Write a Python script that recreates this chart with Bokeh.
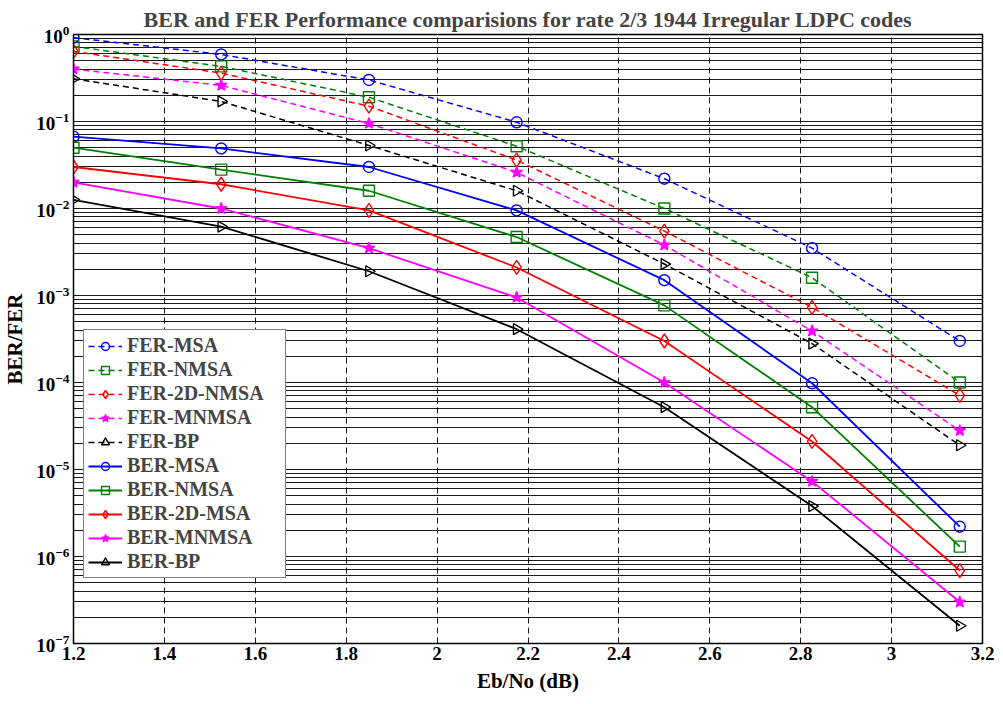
import numpy as np
from bokeh.plotting import figure
from bokeh.models import FixedTicker, Legend, LegendItem, LogTickFormatter
from bokeh.embed import file_html
from bokeh.resources import INLINE

# ---- data ----
ebno = [1.2, 1.525, 1.85, 2.175, 2.5, 2.825, 3.15]

fer_msa   = [0.92, 0.59, 0.30, 0.098, 0.022, 0.0035, 3.0e-4]
fer_nmsa  = [0.73, 0.43, 0.19, 0.052, 0.010, 0.0016, 1.0e-4]
fer_2d    = [0.64, 0.36, 0.15, 0.036, 0.0055, 7.3e-4, 7.1e-5]
fer_mnmsa = [0.40, 0.26, 0.095, 0.026, 0.0038, 3.9e-4, 2.8e-5]
fer_bp    = [0.31, 0.17, 0.053, 0.016, 0.0023, 2.8e-4, 1.9e-5]

ber_msa   = [0.067, 0.049, 0.030, 0.0095, 0.0015, 9.8e-5, 2.2e-6]
ber_nmsa  = [0.050, 0.028, 0.016, 0.0047, 7.7e-4, 5.2e-5, 1.3e-6]
ber_2d    = [0.030, 0.019, 0.0095, 0.0021, 3.0e-4, 2.1e-5, 6.9e-7]
ber_mnmsa = [0.020, 0.010, 0.0035, 9.5e-4, 1.0e-4, 7.3e-6, 3.0e-7]
ber_bp    = [0.0126, 0.0062, 0.0019, 4.1e-4, 5.2e-5, 3.8e-6, 1.6e-7]

x_ticks = [1.2, 1.4, 1.6, 1.8, 2.0, 2.2, 2.4, 2.6, 2.8, 3.0, 3.2]
y_exps = [0, -1, -2, -3, -4, -5, -6, -7]

series = [
    ("FER-MSA", fer_msa, "#0000ff", "circle", "dashed"),
    ("FER-NMSA", fer_nmsa, "#008000", "square", "dashed"),
    ("FER-2D-NMSA", fer_2d, "#ff0000", "diamond", "dashed"),
    ("FER-MNMSA", fer_mnmsa, "#ff00ff", "star", "dashed"),
    ("FER-BP", fer_bp, "#000000", "triangle", "dashed"),
    ("BER-MSA", ber_msa, "#0000ff", "circle", "solid"),
    ("BER-NMSA", ber_nmsa, "#008000", "square", "solid"),
    ("BER-2D-MSA", ber_2d, "#ff0000", "diamond", "solid"),
    ("BER-MNMSA", ber_mnmsa, "#ff00ff", "star", "solid"),
    ("BER-BP", ber_bp, "#000000", "triangle", "solid"),
]

FONT = "Liberation Serif"

p = figure(width=995, height=695, output_backend="svg", toolbar_location=None,
           x_range=(1.2, 3.2), y_range=(1e-7, 1.0), y_axis_type="log",
           min_border_left=68, min_border_right=13, min_border_top=34,
           min_border_bottom=45,
           title="BER and FER Performance comparisions for rate 2/3 1944 Irregular LDPC codes")

p.title.align = "center"
p.title.text_font = FONT
p.title.text_font_style = "bold"
p.title.text_font_size = "22px"
p.title.offset = 0
p.title.standoff = 6

p.outline_line_color = "black"
p.outline_line_width = 1.5

# axes
p.xaxis.ticker = FixedTicker(ticks=x_ticks, minor_ticks=[])
minor = [k * 10.0 ** e for e in range(-7, 0) for k in range(2, 10)]
p.yaxis.ticker = FixedTicker(ticks=[10.0 ** e for e in y_exps], minor_ticks=minor)
p.yaxis.formatter = LogTickFormatter()

for ax in (p.xaxis, p.yaxis):
    ax.major_label_text_font = FONT
    ax.major_label_text_font_style = "bold"
    ax.major_label_text_font_size = "19px"
    ax.axis_label_text_font = FONT
    ax.axis_label_text_font_style = "bold"
    ax.axis_label_text_font_size = "21px"
    ax.major_tick_out = 0
    ax.major_tick_in = 0
    ax.minor_tick_out = 0
    ax.minor_tick_in = 0
    ax.axis_line_color = "black"
    ax.major_label_text_color = "black"
    ax.axis_label_text_color = "black"

p.xaxis.axis_label = "Eb/No (dB)"
p.yaxis.axis_label = "BER/FER"
p.xaxis.major_label_standoff = 3
p.xaxis.axis_label_standoff = 6
p.yaxis.major_label_standoff = 4
p.yaxis.axis_label_standoff = 6

# grids
p.xgrid.grid_line_color = "black"
p.xgrid.grid_line_dash = "6 4"
p.xgrid.grid_line_width = 1
p.xgrid.grid_line_alpha = 0.9
p.ygrid.grid_line_color = "black"
p.ygrid.grid_line_alpha = 0.9
p.ygrid.minor_grid_line_color = "black"
p.ygrid.minor_grid_line_alpha = 0.9

items = []
for name, vals, color, marker, dash in series:
    lw = 1.5 if dash == "dashed" else 1.8
    r1 = p.line(ebno, vals, line_color=color, line_width=lw,
                line_dash="6 4" if dash == "dashed" else "solid")
    kw = dict(size=11, line_color=color, line_width=1.4)
    if marker == "star":
        kw["fill_color"] = color
        kw["size"] = 12
    else:
        kw["fill_color"] = None
    if marker == "diamond":
        kw["size"] = 14
    if marker == "triangle":
        kw["angle"] = -np.pi / 2
    r2 = p.scatter(ebno, vals, marker=marker, **kw)
    items.append(LegendItem(label=name, renderers=[r1, r2]))

legend = Legend(items=items, location=(10, 65))
legend.label_text_font = FONT
legend.label_text_font_style = "bold"
legend.label_text_font_size = "20px"
legend.label_width = 154
legend.glyph_width = 34
legend.glyph_height = 20
legend.label_height = 20
legend.spacing = 1
legend.padding = 4
legend.margin = 0
legend.border_line_color = "black"
legend.border_line_width = 1
legend.background_fill_alpha = 1
p.add_layout(legend, "center")

open("out.html", "w").write(file_html(p, INLINE))
